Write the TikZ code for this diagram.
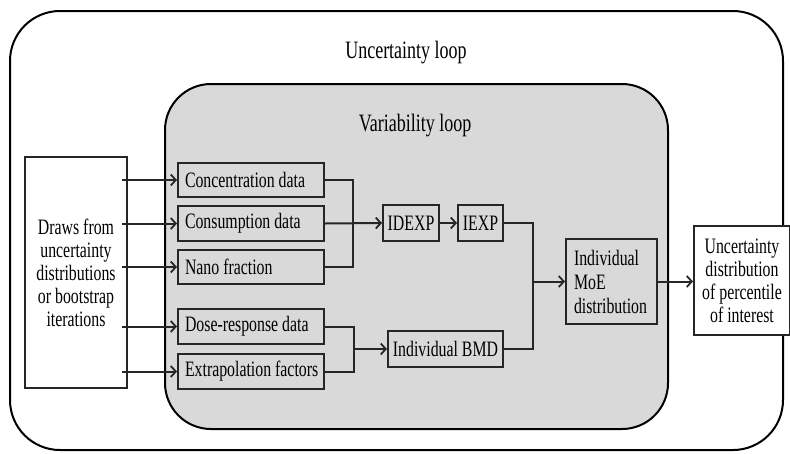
\documentclass[tikz,border=0pt]{standalone}
\usepackage{fontspec}
\setmainfont{Liberation Serif}[FakeStretch=0.72]
\usetikzlibrary{arrows.meta}
\tikzset{
  loopframe/.style={draw=black, line width=2pt},
  titletext/.style={font=\fontsize{25}{27}\selectfont, inner sep=0pt},
  basebox/.style={draw=black!85, line width=2pt, anchor=north west, inner ysep=0pt,
    font=\fontsize{22}{23}\selectfont},
  graybox/.style={basebox, fill=black!15},
  whitebox/.style={basebox, fill=white, align=center, inner xsep=0pt},
  databox/.style={graybox, minimum width=146pt, inner xsep=7pt},
  conn/.style={draw=black!85, line width=2pt},
  arr/.style={conn, -{Straight Barb[length=5pt,width=11pt,line width=1.8pt]}}
}
\newcommand{\lefttext}[1]{\makebox[132pt][l]{#1}}
\begin{document}
\begin{tikzpicture}[x=1pt,y=-1pt]
\useasboundingbox (0,0) rectangle (790,453);
% loops
\draw[loopframe, fill=white, rounded corners=50pt] (10,11) rectangle (783,450);
\draw[loopframe, fill=black!15, rounded corners=46pt] (165,84) rectangle (668,429);
\node[titletext] (ul) at (406,53) {Uncertainty loop};
\node[titletext] (vl) at (415,126) {Variability loop};
% boxes
\node[whitebox, minimum width=102pt, minimum height=231pt] (draws) at (24,156)
  {Draws from\\uncertainty\\distributions\\or bootstrap\\iterations};
\node[databox, minimum height=34pt] (conc) at (177,162) {\lefttext{Concentration data}};
\node[databox, minimum height=35pt] (cons) at (177,205) {\lefttext{Consumption data}};
\node[databox, minimum height=34pt] (nano) at (177,249) {\lefttext{Nano fraction}};
\node[databox, minimum height=35pt] (dose) at (177,308) {\lefttext{Dose-response data}};
\node[databox, minimum height=35pt] (extr) at (177,353) {\lefttext{Extrapolation factors}};
\node[graybox, minimum width=56pt, minimum height=36pt, inner xsep=3pt] (idexp) at (382,204) {IDEXP};
\node[graybox, minimum width=45pt, minimum height=36pt, inner xsep=3pt] (iexp) at (457,204) {IEXP};
\node[graybox, minimum width=115pt, minimum height=36pt, inner xsep=3pt] (bmd) at (387,330) {Individual BMD};
\node[graybox, text width=75pt, inner xsep=8pt, minimum height=85pt, align=left,
  font=\fontsize{22}{24}\selectfont] (moe) at (565,238) {Individual\\MoE\\distribution};
\node[whitebox, minimum width=96pt, minimum height=109pt] (ud) at (693,225)
  {Uncertainty\\distribution\\of percentile\\of interest};
% inputs
\coordinate (ds) at ([xshift=-6pt]draws.east);
\draw[arr] (ds |- conc.west) -- (conc.west);
\draw[arr] (ds |- cons.west) -- (cons.west);
\draw[arr] (ds |- nano.west) -- (nano.west);
\draw[arr] (ds |- dose.west) -- (dose.west);
\draw[arr] (ds |- extr.west) -- (extr.west);
% exposure branch
\coordinate (j1) at (353,0);
\draw[conn] (conc.east) -- (j1 |- conc.east) -- (j1 |- nano.east) -- (nano.east);
\draw[arr] (cons.east) -- (idexp.west);
\draw[arr] (idexp.east) -- (iexp.west);
% hazard branch
\coordinate (j2) at (354,0);
\draw[conn] (dose.east) -- (j2 |- dose.east) -- (j2 |- extr.east) -- (extr.east);
\draw[arr] (j2 |- bmd.west) -- (bmd.west);
% combine
\coordinate (j3) at (533,0);
\draw[conn] (iexp.east) -- (j3 |- iexp.east) -- (j3 |- bmd.east) -- (bmd.east);
\draw[arr] (j3 |- moe.west) -- (moe.west);
\draw[arr] (moe.east) -- (moe.east -| ud.west);
\end{tikzpicture}
\end{document}
